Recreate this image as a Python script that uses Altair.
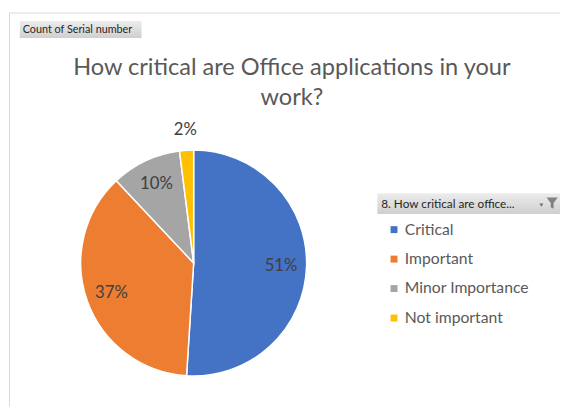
import altair as alt
import pandas as pd

categories = ["Critical", "Important", "Minor Importance", "Not important"]
counts = [51, 37, 10, 2]
colors = ["#4472C4", "#ED7D31", "#A5A5A5", "#FFC000"]

title_lines = ["How critical are Office applications in your", "work?"]
field_button = "Count of Serial number"
legend_header = "8. How critical are office..."

df = pd.DataFrame({"category": categories, "count": counts, "idx": list(range(len(categories)))})

W, H = 561, 401
CX, CY, R = 188, 255, 115
FONT = "Lato"


def one():
    return alt.Data(values=[{}])


color = alt.Color(
    "category:N",
    scale=alt.Scale(domain=categories, range=colors),
    sort=categories,
    legend=alt.Legend(
        title=None, orient="none", legendX=384, legendY=213,
        symbolType="square", symbolSize=50, symbolStrokeWidth=0,
        labelFontSize=16, labelFont=FONT, labelColor="#595959",
        rowPadding=14, labelOffset=3, padding=0,
    ),
)

base = alt.Chart(df)

pie = base.mark_arc(outerRadius=R, stroke="white", strokeWidth=1.5).encode(
    theta=alt.Theta("count:Q", stack=True),
    color=color,
    order=alt.Order("idx:Q"),
    x=alt.value(CX),
    y=alt.value(CY),
)

lab = (
    base.transform_joinaggregate(total="sum(count)")
    .transform_window(cum="sum(count)", sort=[alt.SortField("idx")], frame=[None, 0])
    .transform_calculate(
        mid="datum.cum - datum.count / 2",
        share="datum.count / datum.total",
        pct="round(datum.count / datum.total * 100) + '%'",
    )
)

inner = lab.transform_filter("datum.share >= 0.05").mark_text(
    radius=89, fontSize=17, font=FONT, color="#404040"
).encode(
    theta=alt.Theta("mid:Q", stack=None),
    text="pct:N",
    x=alt.value(CX),
    y=alt.value(CY),
)

outer = lab.transform_filter("datum.share < 0.05").mark_text(
    radius=136, fontSize=17, font=FONT, color="#404040"
).encode(
    theta=alt.Theta("mid:Q", stack=None),
    text="pct:N",
    x=alt.value(CX),
    y=alt.value(CY),
)

frame_top = alt.Chart(one()).mark_rule(color="#d9d9d9", strokeWidth=1).encode(
    x=alt.value(0), x2=alt.value(W), y=alt.value(0.5)
)
frame_left = alt.Chart(one()).mark_rule(color="#d9d9d9", strokeWidth=1).encode(
    x=alt.value(0.5), y=alt.value(0), y2=alt.value(H)
)

grad = alt.LinearGradient(
    gradient="linear", x1=0, y1=0, x2=0, y2=1,
    stops=[alt.GradientStop(color="#ececec", offset=0), alt.GradientStop(color="#cfcfcf", offset=1)],
)

button = alt.Chart(one()).mark_rect(fill=grad).encode(
    x=alt.value(11), x2=alt.value(135), y=alt.value(8.5), y2=alt.value(26)
)
button_text = alt.Chart(one()).mark_text(
    text=field_button, fontSize=11, font=FONT, color="#262626", align="left", baseline="middle"
).encode(x=alt.value(14), y=alt.value(17.5))

title1 = alt.Chart(one()).mark_text(
    text=title_lines[0], fontSize=24, font=FONT, color="#595959", align="center", baseline="alphabetic"
).encode(x=alt.value(288), y=alt.value(64))
title2 = alt.Chart(one()).mark_text(
    text=title_lines[1], fontSize=24, font=FONT, color="#595959", align="center", baseline="alphabetic"
).encode(x=alt.value(288), y=alt.value(94))

header = alt.Chart(one()).mark_rect(fill=grad).encode(
    x=alt.value(375), x2=alt.value(W), y=alt.value(184), y2=alt.value(205)
)
header_text = alt.Chart(one()).mark_text(
    text=legend_header, fontSize=12, font=FONT, color="#262626", align="left", baseline="middle"
).encode(x=alt.value(379), y=alt.value(195))
arrow = alt.Chart(one()).mark_point(shape="triangle-down", filled=True, color="#404040", size=16).encode(
    x=alt.value(542), y=alt.value(196)
)
funnel = alt.Chart(one()).mark_point(
    shape="M-1,-1L1,-1L0.25,0L0.25,1L-0.25,0.75L-0.25,0Z", filled=True, color="#595959", size=130
).encode(x=alt.value(553), y=alt.value(194))

chart = alt.layer(
    frame_top, frame_left, button, button_text, title1, title2,
    pie, inner, outer, header, header_text, arrow, funnel,
).properties(width=W, height=H, padding=0, background="white").configure_view(stroke=None)

chart.save("out.html", embed_options={"renderer": "svg", "actions": False})
